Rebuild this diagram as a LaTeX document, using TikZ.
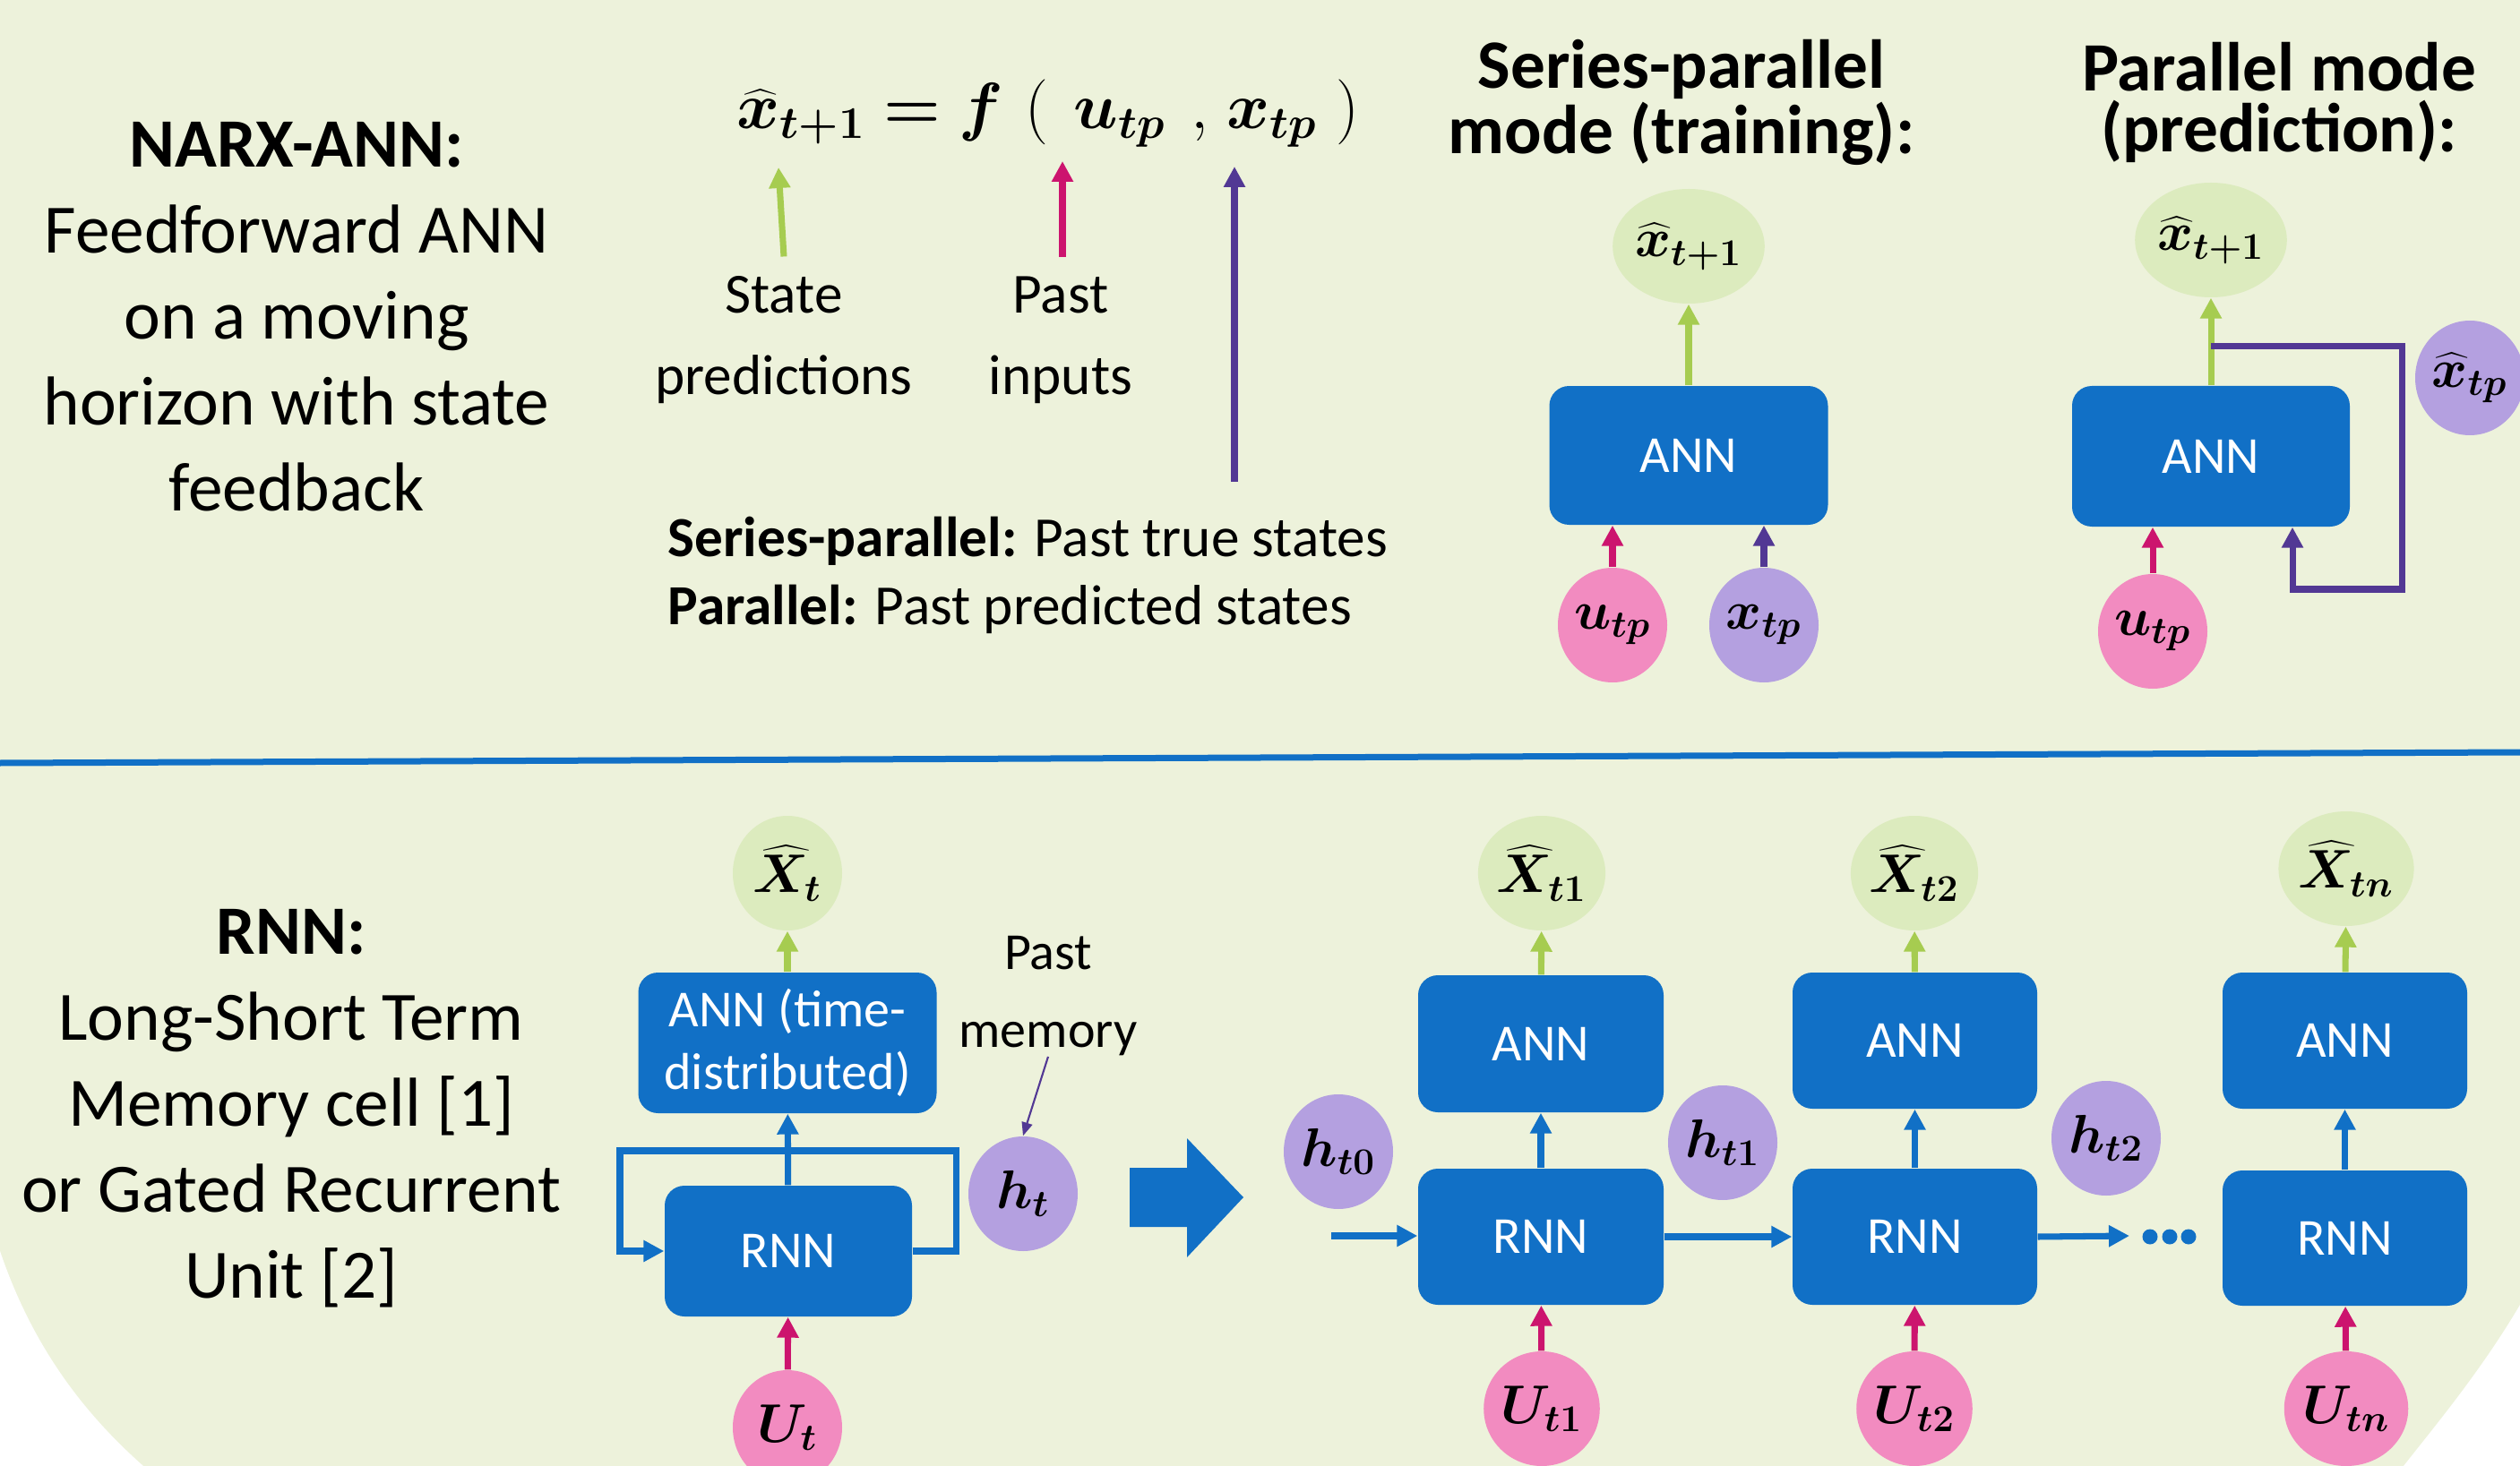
\documentclass[tikz,border=0pt]{standalone}
\usepackage{fontspec}
\setmainfont{Carlito}
\usepackage{bm}
\usetikzlibrary{arrows.meta,shapes.geometric}

\definecolor{bgcol}{HTML}{EDF2DB}
\definecolor{annblue}{HTML}{1170C6}
\definecolor{outgreen}{HTML}{DCEBBE}
\definecolor{ingreen}{HTML}{A6CC50}
\definecolor{inpink}{HTML}{F28BC0}
\definecolor{arrpink}{HTML}{CC146E}
\definecolor{mempurple}{HTML}{B4A0E0}
\definecolor{arrpurple}{HTML}{523894}

\tikzset{
  bigtxt/.style={font=\fontsize{22}{27.3}\selectfont, align=center},
  headtxt/.style={font=\fontsize{22}{19.5}\selectfont\bfseries, align=center},
  midtxt/.style={font=\fontsize{18}{25.9}\selectfont, align=center},
  annbox/.style={rectangle, rounded corners=0.22cm, fill=annblue, text=white,
    font=\fontsize{16.5}{19.9}\selectfont, align=center, inner sep=0},
  outnode/.style={ellipse, fill=outgreen, minimum width=1.22cm, minimum height=1.28cm,
    inner sep=0, font=\fontsize{16.5}{20}\selectfont},
  innode/.style={outnode, fill=inpink},
  memnode/.style={outnode, fill=mempurple},
  garrow/.style={draw=ingreen, line width=2pt, -{Triangle[width=0.23cm,length=0.23cm]}},
  parrow/.style={draw=arrpink, line width=2pt, -{Triangle[width=0.23cm,length=0.23cm]}},
  varrow/.style={draw=arrpurple, line width=2pt, -{Triangle[width=0.23cm,length=0.23cm]}},
  barrow/.style={draw=annblue, line width=2pt, -{Triangle[width=0.23cm,length=0.23cm]}},
}

\begin{document}
\begin{tikzpicture}
% Background and page size
\useasboundingbox (0,0) rectangle (28.13,-16.37);
\fill[bgcol] (0,0) rectangle (28.13,-16.37);
\fill[white] (0,-13.97) .. controls (0.35,-15.0) and (0.9,-15.75) .. (1.6,-16.37) -- (0,-16.37) -- cycle;
\fill[white] (28.13,-14.57) .. controls (27.7,-15.3) and (27.2,-15.9) .. (26.83,-16.37) -- (28.13,-16.37) -- cycle;

%%% NARX part
\node[bigtxt] (narx) at (3.31,-3.54) {\textbf{NARX-ANN:}\\Feedforward ANN\\on a moving\\horizon with state\\feedback};

% Equation
\node[anchor=base, font=\fontsize{20}{24}\selectfont] (eqn) at (11.70,-1.44)
  {$\bm{\widehat{x}_{t+1} = f}\mskip6mu(\mskip7mu\bm{u_{tp}}\mskip7mu,\mskip2mu\bm{x_{tp}}\mskip5mu)$};
\coordinate (eqx) at (8.69,-1.87);
\coordinate (equ) at (11.86,-1.80);
\coordinate (eqxtp) at (13.78,-1.86);
\coordinate (xtpfoot) at (13.78,-5.38);

% Label the equation terms
\node[midtxt] (statelbl) at (8.75,-3.80) {State\\predictions};
\node[midtxt] (pastlbl) at (11.84,-3.80) {Past\\inputs};
\draw[garrow] ([yshift=0.1cm]statelbl.north) -- (eqx);
\draw[parrow] ([yshift=0.1cm]pastlbl.north -| equ) -- (equ);
\draw[varrow] (xtpfoot) -- (eqxtp);

\node[midtxt, align=left, anchor=west, inner sep=0, font=\fontsize{18}{21.6}\selectfont] (legend) at (7.45,-6.42)
  {\textbf{Series-parallel:} Past true states\\\textbf{Parallel:} Past predicted states};

% Series-parallel mode
\node[headtxt] (sphead) at (18.77,-1.145) {Series-parallel\\mode (training):};
\node[outnode] (spout) at (18.85,-2.75) {$\bm{\widehat{x}_{t+1}}$};
\node[annbox, minimum width=3.11cm, minimum height=1.55cm] (spann) at (18.85,-5.085) {ANN};
\node[innode] (sputp) at (18.00,-6.98) {$\bm{u_{tp}}$};
\node[memnode] (spxtp) at (19.69,-6.98) {$\bm{x_{tp}}$};
\draw[garrow] (spann) -- (spout);
\draw[parrow] (sputp) -- (sputp |- spann.south);
\draw[varrow] (spxtp) -- (spxtp |- spann.south);

% Parallel mode
\node[headtxt] (phead) at (25.44,-1.145) {Parallel mode\\(prediction):};
\node[outnode] (pout) at (24.68,-2.68) {$\bm{\widehat{x}_{t+1}}$};
\node[annbox, minimum width=3.10cm, minimum height=1.57cm] (pann) at (24.68,-5.095) {ANN};
\node[innode] (pin) at (24.03,-7.05) {$\bm{u_{tp}}$};
\node[memnode] (pxtp) at (27.57,-4.22) {$\bm{\widehat{x}_{tp}}$};
\draw[garrow] (pann) -- (pout);
\draw[parrow] (pin) -- (pin |- pann.south);
\draw[varrow] ([yshift=0.44cm]pann.north) -| (26.81,-6.58) -| ([xshift=0.91cm]pann.south);

% Separator
\draw[annblue, line width=0.07cm] (0,-8.52) -- (28.13,-8.40);

%%% RNN part
\node[bigtxt] (rnnlbl) at (3.25,-12.38) {\textbf{RNN:}\\Long-Short Term\\Memory cell [1]\\or Gated Recurrent\\Unit [2]};

% Folded cell
\node[outnode] (xout0) at (8.79,-9.75) {$\bm{\widehat{X}_{t}}$};
\node[annbox, minimum width=3.33cm, minimum height=1.57cm] (rann0) at (8.79,-11.645) {ANN (time-\\distributed)};
\node[annbox, minimum width=2.76cm, minimum height=1.46cm] (rnn0) at (8.80,-13.97) {RNN};
\node[innode] (uin0) at (8.79,-15.94) {$\bm{U_{t}}$};
\node[memnode] (mem0) at (11.42,-13.33) {$\bm{h_{t}}$};
\node[font=\fontsize{16.5}{25}\selectfont, align=center, inner sep=0] (memlbl) at (11.70,-11.12) {Past\\memory};
\draw[garrow] (rann0) -- (xout0);
\draw[barrow] (rnn0) -- (rann0);
\draw[parrow] (uin0) -- (rnn0);
\draw[barrow] (rnn0.east) -- ++(0.49,0) |- (6.92,-12.85) |- (rnn0.west);
\draw[arrpurple, line width=0.6pt, -{Triangle[width=0.12cm,length=0.15cm]}] (memlbl.south) -- (mem0.north);

% Unroll arrow
\fill[annblue] (12.61,-13.04) -- (13.25,-13.04) -- (13.25,-12.71) -- (13.88,-13.37)
  -- (13.25,-14.04) -- (13.25,-13.70) -- (12.61,-13.70) -- cycle;

% Unrolled cells
\node[outnode] (xout1) at (17.21,-9.75) {$\bm{\widehat{X}_{t1}}$};
\node[annbox, minimum width=2.74cm, minimum height=1.53cm] (ann1) at (17.20,-11.655) {ANN};
\node[annbox, minimum width=2.74cm, minimum height=1.52cm] (rnn1) at (17.20,-13.81) {RNN};
\node[innode] (uin1) at (17.21,-15.73) {$\bm{U_{t1}}$};

\node[outnode] (xout2) at (21.37,-9.75) {$\bm{\widehat{X}_{t2}}$};
\node[annbox, minimum width=2.73cm, minimum height=1.52cm] (ann2) at (21.375,-11.62) {ANN};
\node[annbox, minimum width=2.73cm, minimum height=1.52cm] (rnn2) at (21.375,-13.81) {RNN};
\node[innode] (uin2) at (21.37,-15.73) {$\bm{U_{t2}}$};

\node[outnode] (xout3) at (26.19,-9.70) {$\bm{\widehat{X}_{tn}}$};
\node[annbox, minimum width=2.73cm, minimum height=1.52cm] (ann3) at (26.175,-11.62) {ANN};
\node[annbox, minimum width=2.73cm, minimum height=1.51cm] (rnn3) at (26.175,-13.825) {RNN};
\node[innode] (uin3) at (26.19,-15.73) {$\bm{U_{tn}}$};

\node[memnode] (hst0) at (14.94,-12.86) {$\bm{h_{t0}}$};
\node[memnode] (hst1) at (19.23,-12.76) {$\bm{h_{t1}}$};
\node[memnode] (hst2) at (23.51,-12.71) {$\bm{h_{t2}}$};

\draw[garrow] (ann1) -- (xout1);
\draw[garrow] (ann2) -- (xout2);
\draw[garrow] (ann3) -- (xout3);
\draw[barrow] (rnn1) -- (ann1);
\draw[barrow] (rnn2) -- (ann2);
\draw[barrow] (rnn3) -- (ann3);
\draw[parrow] (uin1) -- (rnn1);
\draw[parrow] (uin2) -- (rnn2);
\draw[parrow] (uin3) -- (rnn3);

% Hidden state chain
\coordinate (hin) at (14.86,-13.80);
\coordinate (ellipsis) at (23.77,-13.80);
\draw[barrow] (hin) -- (hin -| rnn1.west);
\draw[barrow] (rnn1.east) -- (rnn2.west);
\draw[barrow] (rnn2.east) -- (ellipsis);
\fill[annblue] (24.00,-13.81) circle (0.085) (24.22,-13.81) circle (0.085) (24.43,-13.81) circle (0.085);

\end{tikzpicture}
\end{document}
